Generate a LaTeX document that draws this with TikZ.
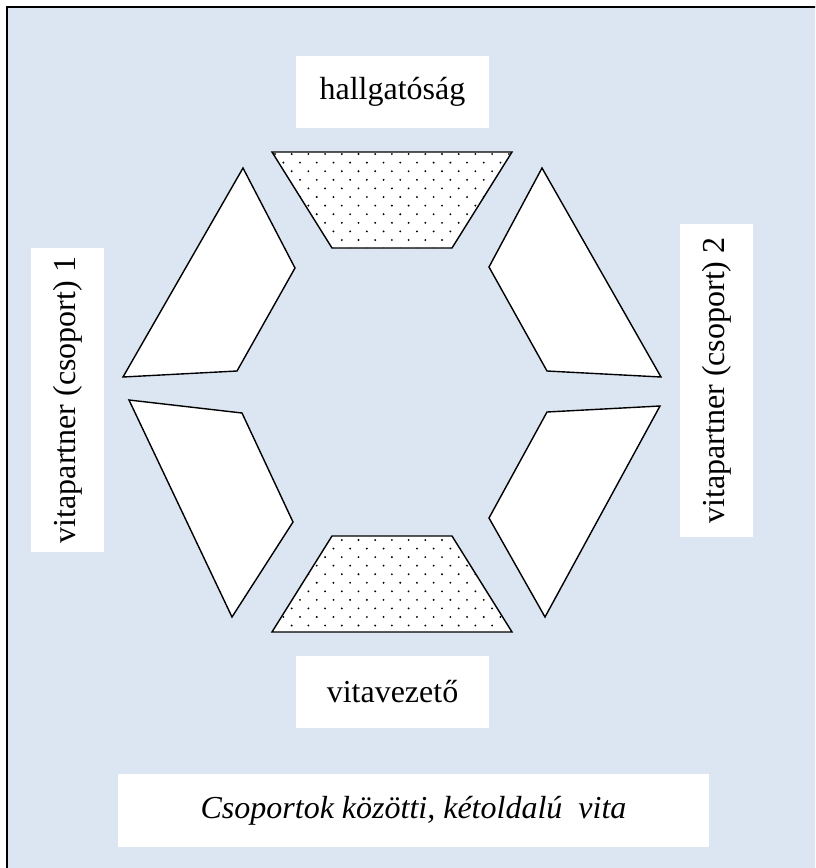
\documentclass[tikz,border=0pt]{standalone}
\usepackage{fontspec}
\setmainfont{Liberation Serif}
\definecolor{bgblue}{HTML}{DCE6F2}
\begin{document}
\begin{tikzpicture}[x=1pt,y=-1pt,
  lbl/.style={fill=white, inner sep=0pt, font=\fontsize{32}{38}\selectfont},
  seat/.style={draw=black, line width=1.4pt, line join=miter},
  dotfill/.style={fill=black},
]
\useasboundingbox (0,0) rectangle (815,868);
\begin{scope}
  \clip (0,0) rectangle (815,868);
  \draw[fill=bgblue, line width=2pt] (7,7) rectangle (830,885);
\end{scope}

% labels
\node[lbl, minimum width=193pt, minimum height=72pt] (audience) at (392.5,92) {hallgatóság};
\node[lbl, minimum width=193pt, minimum height=72pt] (chair) at (392.5,692) {vitavezető};
\node[lbl, rotate=90, minimum width=304pt, minimum height=73pt] (teamA) at (67.5,400) {vitapartner (csoport) 1};
\node[lbl, rotate=90, minimum width=313pt, minimum height=73pt] (teamB) at (716.5,380.5) {vitapartner (csoport) 2};
\node[lbl, minimum width=591pt, minimum height=73pt, font=\fontsize{32}{38}\selectfont\itshape] (caption) at (413.5,810.5) {Csoportok közötti, kétoldalú\ \ vita};

% side seats
\fill[white] (243,168) -- (295,268) -- (237,371) -- (123,377) -- cycle;
\draw[seat] (243,168) -- (295,268) -- (237,371) -- (123,377) -- cycle;
\fill[white] (129,400) -- (242,413) -- (293,522) -- (232,617) -- cycle;
\draw[seat] (129,400) -- (242,413) -- (293,522) -- (232,617) -- cycle;
\fill[white] (542,168) -- (489,267) -- (547,371) -- (661,377) -- cycle;
\draw[seat] (542,168) -- (489,267) -- (547,371) -- (661,377) -- cycle;
\fill[white] (547,412) -- (660,406) -- (545,617) -- (489,518) -- cycle;
\draw[seat] (547,412) -- (660,406) -- (545,617) -- (489,518) -- cycle;

% top dotted trapezoid
\fill[white] (272,152) -- (512,152) -- (452,248) -- (332,248) -- cycle;
\begin{scope}
  \clip (272,152) -- (512,152) -- (452,248) -- (332,248) -- cycle;
  \foreach \i in {0,...,11}{
    \foreach \j in {0,...,15}{
      \fill[dotfill] ({275+16.7*\j+8.35*mod(\i,2)}, {154+8.6*\i}) circle (1.05pt);
    }}
\end{scope}
\draw[seat] (272,152) -- (512,152) -- (452,248) -- (332,248) -- cycle;

% bottom dotted trapezoid
\fill[white] (332,536) -- (452,536) -- (512,632) -- (272,632) -- cycle;
\begin{scope}
  \clip (332,536) -- (452,536) -- (512,632) -- (272,632) -- cycle;
  \foreach \i in {0,...,11}{
    \foreach \j in {0,...,15}{
      \fill[dotfill] ({275+16.7*\j+8.35*mod(\i,2)}, {540+8.55*\i}) circle (1.05pt);
    }}
\end{scope}
\draw[seat] (332,536) -- (452,536) -- (512,632) -- (272,632) -- cycle;
\end{tikzpicture}
\end{document}
